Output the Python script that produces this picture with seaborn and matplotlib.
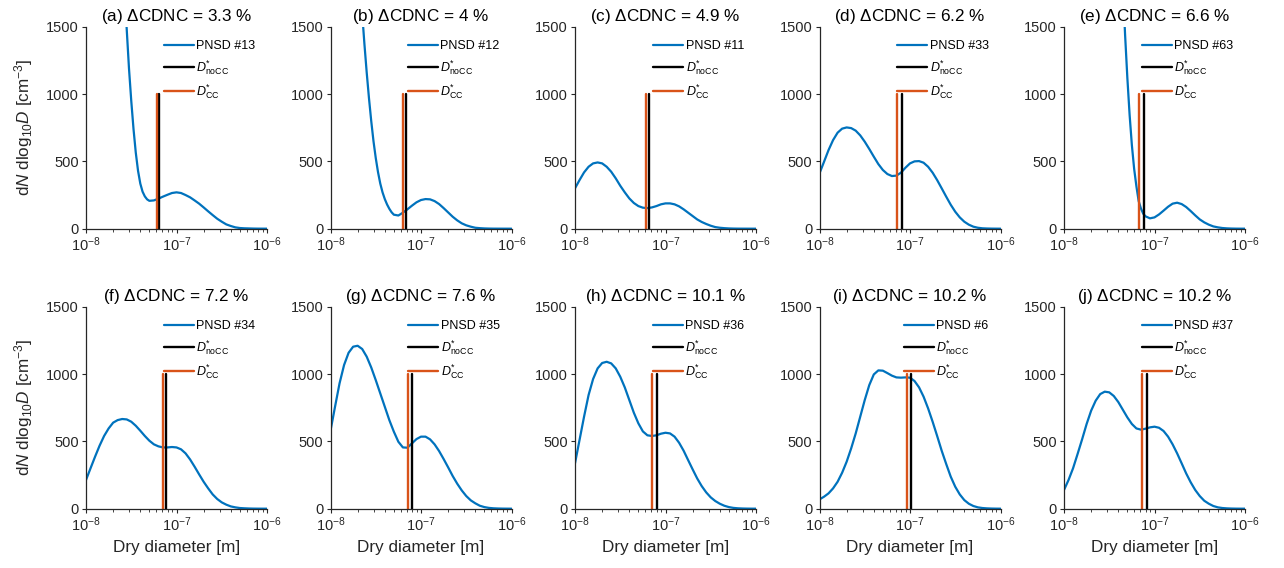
import numpy as np
import pandas as pd
import matplotlib
matplotlib.use("Agg")
import matplotlib.pyplot as plt
import seaborn as sns
from matplotlib.ticker import LogLocator, NullFormatter, FixedLocator

# Dry-diameter sampling grid (log10 of D in metres)
log_d = np.round(np.arange(-8.0, -5.999, 0.05), 2)

panel_tags = ["a", "b", "c", "d", "e", "f", "g", "h", "i", "j"]
delta_cdnc = ["3.3", "4", "4.9", "6.2", "6.6", "7.2", "7.6", "10.1", "10.2", "10.2"]
pnsd_ids = [13, 12, 11, 33, 63, 34, 35, 36, 6, 37]

# Critical dry diameters [m] without / with co-condensation
d_nocc = [6.45e-8, 6.89e-8, 6.53e-8, 8.1e-8, 7.57e-8, 7.75e-8, 8.02e-8, 8.0e-8, 1.035e-7, 8.17e-8]
d_cc = [6.1e-8, 6.26e-8, 6.09e-8, 7.2e-8, 6.67e-8, 7.06e-8, 7.24e-8, 7.1e-8, 9.27e-8, 7.24e-8]
line_top = 1000

# dN/dlog10D [cm^-3] on the grid above
pnsd_a = [14000, 12000, 10000, 8200, 6600, 5200, 4000, 3000, 2200, 1480, 950, 565, 335, 240,
          207, 210, 223, 238, 252, 265, 270, 265, 250, 233, 210, 186, 158, 129, 101, 74, 52,
          32, 20, 10, 5, 3, 2, 1, 0.5, 0.3, 0.2]
pnsd_b = [8800, 7300, 6000, 4800, 3800, 2900, 2200, 1600, 1160, 800, 525, 335, 220, 148, 104,
          98, 119, 144, 171, 196, 213, 220, 218, 205, 183, 153, 121, 89, 62, 40, 25, 15, 7, 4,
          2, 1, 0.5, 0.3, 0.2, 0.1, 0.05]
pnsd_c = [300, 361, 418, 460, 485, 492, 485, 460, 423, 374, 319, 270, 225, 191, 168, 156, 153,
          158, 168, 181, 188, 188, 181, 166, 144, 119, 94, 69, 50, 35, 22, 12, 7, 4, 2, 1, 0.5,
          0.3, 0.2, 0.1, 0.05]
pnsd_d = [411, 497, 584, 658, 713, 743, 752, 747, 728, 693, 646, 592, 535, 480, 436, 406, 391,
          394, 416, 453, 485, 500, 502, 490, 460, 416, 361, 300, 238, 178, 126, 84, 52, 30, 15,
          7, 3, 1.5, 0.7, 0.3, 0.1]
pnsd_e = [30000, 26000, 23000, 20000, 17000, 14500, 12000, 10000, 8200, 6600, 5100, 3800, 2700,
          1810, 1120, 620, 315, 150, 92, 77, 84, 106, 134, 163, 186, 193, 183, 161, 131, 99, 69,
          47, 30, 17, 10, 5, 2.5, 1.2, 0.5, 0.2, 0.1]
pnsd_f = [213, 300, 386, 468, 540, 596, 639, 658, 666, 663, 646, 616, 579, 540, 505, 478, 463,
          455, 455, 458, 455, 441, 411, 366, 312, 255, 200, 151, 106, 72, 47, 30, 17, 10, 5, 3,
          1.5, 0.7, 0.3, 0.15, 0.1]
pnsd_g = [579, 757, 931, 1067, 1158, 1203, 1210, 1186, 1129, 1049, 955, 856, 757, 658, 572, 497,
          455, 453, 485, 517, 535, 535, 515, 478, 428, 369, 307, 243, 186, 136, 94, 62, 40, 22,
          12, 6, 3, 1.5, 0.7, 0.3, 0.15]
pnsd_h = [337, 510, 683, 844, 963, 1042, 1082, 1091, 1079, 1042, 980, 901, 807, 713, 634, 574,
          545, 540, 545, 557, 564, 559, 535, 490, 431, 361, 292, 225, 168, 121, 84, 57, 37, 22,
          12, 6, 3, 1.5, 0.7, 0.3, 0.15]
pnsd_i = [69, 89, 114, 151, 200, 267, 349, 448, 559, 683, 807, 918, 997, 1027, 1025, 1007, 988,
          975, 973, 975, 973, 948, 901, 832, 745, 646, 540, 431, 332, 238, 163, 106, 64, 37, 20,
          10, 5, 2.5, 1.2, 0.5, 0.2]
pnsd_j = [139, 213, 300, 406, 515, 629, 728, 802, 851, 869, 864, 837, 792, 735, 678, 629, 596,
          587, 594, 604, 609, 601, 577, 535, 478, 411, 337, 262, 196, 139, 94, 59, 37, 20, 10, 5,
          2.5, 1.2, 0.5, 0.2, 0.1]
pnsd_all = [pnsd_a, pnsd_b, pnsd_c, pnsd_d, pnsd_e, pnsd_f, pnsd_g, pnsd_h, pnsd_i, pnsd_j]

# Extra readings on the steep nucleation-mode flanks (log10 D, dN/dlog10D)
flank_logd = {
    0: [-7.575, -7.525, -7.475, -7.425, -7.375, -7.325],
    1: [-7.625, -7.575, -7.525, -7.475, -7.425, -7.375, -7.325],
    4: [-7.375, -7.325, -7.275, -7.225, -7.175, -7.125],
}
flank_vals = {
    0: [1820, 1190, 740, 430, 275, 218],
    1: [1370, 970, 650, 420, 270, 180, 122],
    4: [2230, 1440, 845, 445, 205, 112],
}

BLUE = "#0072BD"
BLACK = "#000000"
ORANGE = "#D95319"
INK = "#262626"

sns.set_theme(style="ticks")
plt.rcParams["font.family"] = ["Liberation Sans", "DejaVu Sans"]
plt.rcParams["mathtext.fontset"] = "custom"
plt.rcParams["mathtext.rm"] = "Liberation Sans"
plt.rcParams["mathtext.it"] = "Liberation Sans:italic"
plt.rcParams["mathtext.bf"] = "Liberation Sans:bold"
plt.rcParams["axes.unicode_minus"] = False

fig = plt.figure(figsize=(12.84, 5.68), dpi=100)
W, H = 1284.0, 568.0
ax_w, ax_h = 181.0, 202.0
lefts = [86.0 + k * 244.5 for k in range(5)]
tops = [26.7, 306.7]

for idx in range(10):
    row, col = divmod(idx, 5)
    x0 = lefts[col]
    y_top = tops[row]
    ax = fig.add_axes([x0 / W, 1 - (y_top + ax_h) / H, ax_w / W, ax_h / H])

    xs = list(log_d) + flank_logd.get(idx, [])
    ys = list(pnsd_all[idx]) + flank_vals.get(idx, [])
    curve = pd.DataFrame({"D": 10.0 ** np.array(xs), "n": ys}).sort_values("D")
    sns.lineplot(data=curve, x="D", y="n", ax=ax, color=BLUE, linewidth=1.6,
                 label=f"PNSD #{pnsd_ids[idx]}", legend=False)
    v_nocc = pd.DataFrame({"D": [d_nocc[idx], d_nocc[idx]], "n": [0, line_top]})
    v_cc = pd.DataFrame({"D": [d_cc[idx], d_cc[idx]], "n": [0, line_top]})
    sns.lineplot(data=v_nocc, x="D", y="n", ax=ax, color=BLACK, linewidth=1.7,
                 estimator=None, sort=False, label=r"$D^{*}_{\mathrm{noCC}}$", legend=False)
    sns.lineplot(data=v_cc, x="D", y="n", ax=ax, color=ORANGE, linewidth=1.7,
                 estimator=None, sort=False, label=r"$D^{*}_{\mathrm{CC}}$", legend=False)

    ax.set_xscale("log")
    ax.set_xlim(1e-8, 1e-6)
    ax.set_ylim(0, 1500)
    ax.yaxis.set_major_locator(FixedLocator([0, 500, 1000, 1500]))
    ax.xaxis.set_major_locator(LogLocator(base=10, numticks=5))
    ax.xaxis.set_minor_locator(LogLocator(base=10, subs=np.arange(2, 10), numticks=20))
    ax.xaxis.set_minor_formatter(NullFormatter())

    for side in ("top", "right"):
        ax.spines[side].set_visible(False)
    for side in ("left", "bottom"):
        ax.spines[side].set_color(INK)
        ax.spines[side].set_linewidth(0.9)
    ax.tick_params(axis="both", which="major", direction="out", length=3, width=0.8,
                   color=INK, labelcolor=INK, labelsize=10.5, pad=2)
    ax.tick_params(axis="x", which="minor", direction="out", length=1.8, width=0.6, color=INK)

    ax.set_title(rf"({panel_tags[idx]}) $\Delta$CDNC = {delta_cdnc[idx]} %",
                 fontsize=12.3, color="black", pad=4)

    if col == 0:
        ax.set_ylabel(r"d$N$ dlog$_{10}$$D$ [cm$^{-3}$]", fontsize=12.3, color=INK, labelpad=8)
    else:
        ax.set_ylabel("")
    if row == 1:
        ax.set_xlabel("Dry diameter [m]", fontsize=12.3, color=INK, labelpad=4)
    else:
        ax.set_xlabel("")

    leg = ax.legend(loc="upper right", bbox_to_anchor=(0.935, 0.933), frameon=False,
                    fontsize=9, handlelength=2.4, handletextpad=0.2, labelspacing=0.45,
                    borderpad=0, borderaxespad=0)
    for txt in leg.get_texts():
        txt.set_color("black")

fig.savefig("out.png", dpi=100)
